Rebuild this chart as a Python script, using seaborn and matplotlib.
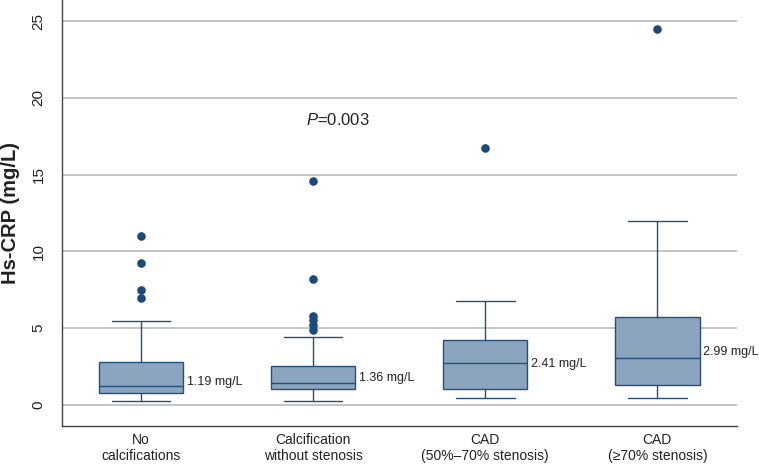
import matplotlib
matplotlib.use("Agg")
import matplotlib.pyplot as plt
import pandas as pd
import seaborn as sns

# -------------------------------------------------------------------
# Data
# -------------------------------------------------------------------

categories = [
    "No\ncalcifications",
    "Calcification\nwithout stenosis",
    "CAD\n(50%\u201370% stenosis)",
    "CAD\n(\u226570% stenosis)",
]
whisker_low = [0.24, 0.24, 0.46, 0.46]
q1 = [0.78, 1.04, 1.04, 1.30]
medians = [1.24, 1.41, 2.72, 3.04]
q3 = [2.82, 2.56, 4.21, 5.71]
whisker_high = [5.47, 4.45, 6.80, 12.0]

outliers_none = [11.03, 9.27, 7.49, 6.99]
outliers_calc = [14.6, 8.2, 5.82, 5.54, 5.21, 4.89]
outliers_cad50 = [16.74]
outliers_cad70 = [24.5]

median_labels = ["1.19 mg/L", "1.36 mg/L", "2.41 mg/L", "2.99 mg/L"]
label_heights = [1.5, 1.75, 2.7, 3.45]

p_text = "$P$=0.003"

FILL = "#8ba5be"
EDGE = "#24507f"
DOT = "#1b4a7a"
GRID = "#b4b4b4"

# -------------------------------------------------------------------
# Style
# -------------------------------------------------------------------

sns.set_theme(style="white")
plt.rcParams["font.family"] = ["Liberation Sans", "DejaVu Sans"]
plt.rcParams["mathtext.fontset"] = "custom"
plt.rcParams["mathtext.it"] = "Liberation Sans:italic"
plt.rcParams["mathtext.rm"] = "Liberation Sans"

fig = plt.figure(figsize=(7.59, 4.73), dpi=100)
ax = fig.add_axes([0.0821, 0.1, 0.889, 0.9])

# outlier points through seaborn's categorical axis
fliers = pd.DataFrame(
    {
        "group": [categories[0]] * len(outliers_none)
        + [categories[1]] * len(outliers_calc)
        + [categories[2]] * len(outliers_cad50)
        + [categories[3]] * len(outliers_cad70),
        "value": outliers_none + outliers_calc + outliers_cad50 + outliers_cad70,
    }
)
sns.stripplot(
    data=fliers, x="group", y="value", order=categories, jitter=False,
    color=DOT, size=6.2, linewidth=0, zorder=4, ax=ax,
)

# boxes from the five-number summaries
stats = []
for i in range(len(categories)):
    stats.append(
        {
            "whislo": whisker_low[i],
            "q1": q1[i],
            "med": medians[i],
            "q3": q3[i],
            "whishi": whisker_high[i],
            "fliers": [],
        }
    )

ax.bxp(
    stats,
    positions=range(len(categories)),
    widths=0.49,
    capwidths=0.34,
    patch_artist=True,
    showfliers=False,
    manage_ticks=False,
    boxprops={"facecolor": FILL, "edgecolor": EDGE, "linewidth": 1.0},
    medianprops={"color": EDGE, "linewidth": 1.0},
    whiskerprops={"color": EDGE, "linewidth": 1.0},
    capprops={"color": EDGE, "linewidth": 1.0},
    zorder=3,
)

for i, text in enumerate(median_labels):
    ax.text(i + 0.265, label_heights[i], text, fontsize=9, color="#222222",
            ha="left", va="center", zorder=5)

ax.text(1.145, 18.57, p_text, fontsize=12, color="#222222",
        ha="center", va="center")

# -------------------------------------------------------------------
# Axes
# -------------------------------------------------------------------

ax.set_xlim(-0.457, 3.463)
ax.set_ylim(-1.35, 26.38)
ax.set_yticks([0, 5, 10, 15, 20, 25])
ax.yaxis.grid(True, color=GRID, linewidth=1.1, zorder=0)
ax.set_axisbelow(True)

ax.set_xlabel("")
ax.set_ylabel("Hs-CRP (mg/L)", fontsize=14.5, fontweight="bold",
              color="#222222")
ax.yaxis.set_label_coords(-0.062, 0.5)

ax.tick_params(axis="x", length=0, pad=5, labelsize=10, labelcolor="#222222")
ax.tick_params(axis="y", length=5, width=1, color="#444444", direction="out",
               pad=7, labelsize=11, labelcolor="#222222", labelrotation=90)
for label in ax.get_yticklabels():
    label.set_va("center")

for side in ["top", "right"]:
    ax.spines[side].set_visible(False)
for side in ["left", "bottom"]:
    ax.spines[side].set_color("#444444")
    ax.spines[side].set_linewidth(1.0)

fig.savefig("out.png", dpi=100)
